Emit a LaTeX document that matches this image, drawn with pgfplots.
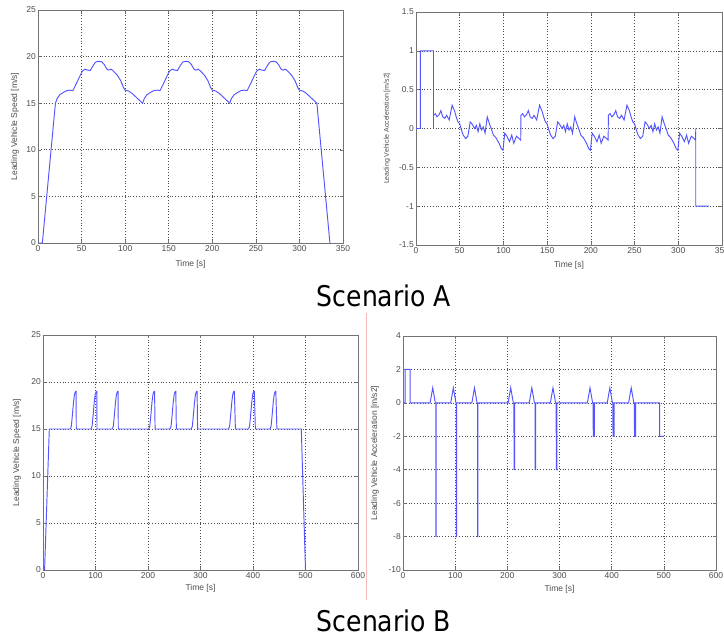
\documentclass[border=0pt]{standalone}
\usepackage{pgfplots}
\pgfplotsset{compat=1.18}
\usepackage{fontspec}
\setmainfont{Liberation Sans}
\newfontfamily\capfont[FakeStretch=0.88]{DejaVu Sans}
\definecolor{linecol}{RGB}{85,85,255}
\definecolor{pinkline}{RGB}{250,185,185}
\pgfplotsset{
  mat/.style={
    scale only axis, anchor=south west,
    grid=major,
    major grid style={black!70, line width=0.6pt, dash pattern=on 0.8pt off 2pt},
    axis line style={black!55, line width=0.6pt},
    tick style={black!55, line width=0.5pt},
    tick align=inside, major tick length=3pt,
    ticklabel style={font=\fontsize{8.5}{9}\selectfont, text=black!70},
    label style={font=\fontsize{8.5}{9}\selectfont, text=black!70},
    xticklabel style={inner sep=1pt, yshift=-1.5pt},
    yticklabel style={inner sep=2pt},
    /pgf/number format/assume math mode=true,
    xlabel={Time [s]},
  },
  xlab/.style={xlabel style={at={(axis description cs:0.5,0)}, anchor=center, yshift=-#1}},
  ylab/.style={ylabel style={at={(axis description cs:0,0.5)}, anchor=center, yshift=#1}},
  ln/.style={linecol, line width=0.95pt, mark=none},
}
\begin{document}
\begin{tikzpicture}
\path[use as bounding box] (0pt,0pt) rectangle (724pt,637pt);

% ---------------- Scenario A: speed ----------------
\begin{axis}[mat, at={(38pt,394pt)}, width=305pt, height=233pt,
  xmin=0, xmax=350, ymin=0, ymax=25,
  xtick={0,50,...,350}, ytick={0,5,...,25},
  ylabel={Leading Vehicle Speed [m/s]}, xlab=21pt, ylab=23pt]
\addplot[ln] coordinates {
(0,0) (5,0) (20,15.0)
(22,15.5) (25,15.9) (29,16.15) (33,16.35) (37,16.4) (40,16.35) (44,17.1) (48,17.9) (51,18.45) (54,18.65) (57,18.55) (60,18.5) (63,19.0) (66,19.4) (69,19.5) (73,19.45) (76,19.15) (79,18.65) (81,18.55) (84,18.65) (87,18.4) (91,18.0) (95,17.4) (98,16.7) (100,16.4) (104,16.3) (108,16.05) (112,15.7) (116,15.35) (120,15.0)
(122,15.5) (125,15.9) (129,16.15) (133,16.35) (137,16.4) (140,16.35) (144,17.1) (148,17.9) (151,18.45) (154,18.65) (157,18.55) (160,18.5) (163,19.0) (166,19.4) (169,19.5) (173,19.45) (176,19.15) (179,18.65) (181,18.55) (184,18.65) (187,18.4) (191,18.0) (195,17.4) (198,16.7) (200,16.4) (204,16.3) (208,16.05) (212,15.7) (216,15.35) (220,15.0)
(222,15.5) (225,15.9) (229,16.15) (233,16.35) (237,16.4) (240,16.35) (244,17.1) (248,17.9) (251,18.45) (254,18.65) (257,18.55) (260,18.5) (263,19.0) (266,19.4) (269,19.5) (273,19.45) (276,19.15) (279,18.65) (281,18.55) (284,18.65) (287,18.4) (291,18.0) (295,17.4) (298,16.7) (300,16.4) (304,16.3) (308,16.05) (312,15.7) (316,15.35) (320,15.0)
(335,0)
};
\end{axis}

% ---------------- Scenario A: acceleration ----------------
\begin{axis}[mat, at={(416pt,392pt)}, width=306pt, height=233pt,
  xmin=0, xmax=350, ymin=-1.5, ymax=1.5,
  xtick={0,50,...,350}, ytick={-1.5,-1,...,1.5},
  ylabel={Leading Vehicle Acceleration [m/s2]}, xlab=20pt, ylab=29pt,
  ylabel style={font=\fontsize{7}{8}\selectfont}]
\addplot[ln] coordinates {
(0,0) (5,0) (5,1) (20,1) (20,0)
(20,0.17) (22,0.19) (24,0.15) (26.5,0.18) (28.5,0.23) (30.5,0.15) (33,0.13) (35,0.17) (38,0.11) (41.3,0.3) (44,0.23) (46,0.15) (48,0.085) (50,0.06) (52,-0.02) (54,-0.085) (56.7,-0.13) (59.3,-0.1) (62,0.085) (64,0.06) (67,0) (69,0.04) (71,-0.04) (73,0.06) (75,-0.02) (77,0.02) (79,-0.06) (81.5,0.15) (84,0.06) (86,0) (88.5,-0.085) (91.5,-0.12) (95,-0.19) (97.6,-0.26) (99.5,-0.28) (101.5,-0.06) (104,-0.1) (107,-0.17) (109.5,-0.085) (111.8,-0.19) (114.9,-0.1) (117,-0.12) (119.8,-0.15)
(120,0.17) (122,0.19) (124,0.15) (126.5,0.18) (128.5,0.23) (130.5,0.15) (133,0.13) (135,0.17) (138,0.11) (141.3,0.3) (144,0.23) (146,0.15) (148,0.085) (150,0.06) (152,-0.02) (154,-0.085) (156.7,-0.13) (159.3,-0.1) (162,0.085) (164,0.06) (167,0) (169,0.04) (171,-0.04) (173,0.06) (175,-0.02) (177,0.02) (179,-0.06) (181.5,0.15) (184,0.06) (186,0) (188.5,-0.085) (191.5,-0.12) (195,-0.19) (197.6,-0.26) (199.5,-0.28) (201.5,-0.06) (204,-0.1) (207,-0.17) (209.5,-0.085) (211.8,-0.19) (214.9,-0.1) (217,-0.12) (219.8,-0.15)
(220,0.17) (222,0.19) (224,0.15) (226.5,0.18) (228.5,0.23) (230.5,0.15) (233,0.13) (235,0.17) (238,0.11) (241.3,0.3) (244,0.23) (246,0.15) (248,0.085) (250,0.06) (252,-0.02) (254,-0.085) (256.7,-0.13) (259.3,-0.1) (262,0.085) (264,0.06) (267,0) (269,0.04) (271,-0.04) (273,0.06) (275,-0.02) (277,0.02) (279,-0.06) (281.5,0.15) (284,0.06) (286,0) (288.5,-0.085) (291.5,-0.12) (295,-0.19) (297.6,-0.26) (299.5,-0.28) (301.5,-0.06) (304,-0.1) (307,-0.17) (309.5,-0.085) (311.8,-0.19) (314.9,-0.1) (317,-0.12) (319.8,-0.15)
(320,0) (320,-1) (335,-1)
};
\end{axis}

% ---------------- Scenario B: speed ----------------
\begin{axis}[mat, at={(43pt,67pt)}, width=315pt, height=235pt,
  xmin=0, xmax=600, ymin=0, ymax=25,
  xtick={0,100,...,600}, ytick={0,5,...,25},
  ylabel={Leading Vehicle Speed [m/s]}, xlab=18pt, ylab=26pt]
\addplot[ln] coordinates {
(0,0) (3,0) (12,15)
(52,15) (54,15.3) (56,16.5) (58,17.8) (60,18.7) (62,19) (63,19) (63.4,15)
(91.5,15) (93.5,15.3) (95.5,16.5) (97.5,17.8) (99.5,18.7) (101.5,19) (102.5,19) (102.9,15)
(132,15) (134,15.3) (136,16.5) (138,17.8) (140,18.7) (142,19) (143,19) (143.4,15)
(201.5,15) (203.5,15.3) (205.5,16.5) (207.5,17.8) (209.5,18.7) (211.5,19) (212.5,19) (213.5,15)
(242,15) (244,15.3) (246,16.5) (248,17.8) (250,18.7) (252,19) (253,19) (254,15)
(282.5,15) (284.5,15.3) (286.5,16.5) (288.5,17.8) (290.5,18.7) (292.5,19) (293.5,19) (294.5,15)
(353.5,15) (355.5,15.3) (357.5,16.5) (359.5,17.8) (361.5,18.7) (363.5,19) (364.5,19) (366.5,15)
(391.5,15) (393.5,15.3) (395.5,16.5) (397.5,17.8) (399.5,18.7) (401.5,19) (402.5,19) (404.5,15)
(432.5,15) (434.5,15.3) (436.5,16.5) (438.5,17.8) (440.5,18.7) (442.5,19) (443.5,19) (445.5,15)
(492,15) (500,0)
};
\end{axis}

% ---------------- Scenario B: acceleration ----------------
\begin{axis}[mat, at={(403pt,67pt)}, width=313pt, height=234pt,
  xmin=0, xmax=600, ymin=-10, ymax=4,
  xtick={0,100,...,600}, ytick={-10,-8,...,4},
  ylabel={Leading Vehicle Acceleration [m/s2]}, xlab=19pt, ylab=28pt]
\addplot[ln] coordinates {
(0,0) (4,0) (4,2) (13.5,2) (13.5,0)
(52,0) (57,0.9) (62,0) (63,0) (63,-8) (63.4,-8) (63.4,0)
(91.5,0) (96.5,0.9) (101.5,0) (102.5,0) (102.5,-8) (102.9,-8) (102.9,0)
(132,0) (137,0.9) (142,0) (143,0) (143,-8) (143.4,-8) (143.4,0)
(201.5,0) (206.5,0.9) (211.5,0) (212.5,0) (212.5,-1.8) (212.7,0) (212.8,-4) (213.8,-4) (213.8,0)
(242,0) (247,0.9) (252,0) (253,0) (253,-1.8) (253.2,0) (253.3,-4) (254.3,-4) (254.3,0)
(282.5,0) (287.5,0.9) (292.5,0) (293.5,0) (293.5,-1.8) (293.7,0) (293.8,-4) (294.8,-4) (294.8,0)
(353.5,0) (358.5,0.9) (363.5,0) (364.5,0) (364.5,-1.6) (364.7,0) (364.8,-2) (366.8,-2) (366.8,0)
(391.5,0) (396.5,0.9) (401.5,0) (402.5,0) (402.5,-1.6) (402.7,0) (402.8,-2) (404.8,-2) (404.8,0)
(432.5,0) (437.5,0.9) (442.5,0) (443.5,0) (443.5,-1.6) (443.7,0) (443.8,-2) (445.8,-2) (445.8,0)
(492,0) (492,-2) (500,-2)
};
\end{axis}

% separator and captions
\draw[pinkline, line width=0.8pt] (366pt,37pt) -- (366pt,324pt);
\node[anchor=base, inner sep=0pt, font=\capfont\fontsize{28.5}{30}\selectfont] at (384pt,330.5pt) {Scenario A};
\node[anchor=base, inner sep=0pt, font=\capfont\fontsize{28.5}{30}\selectfont] at (384pt,5.5pt) {Scenario B};
\end{tikzpicture}
\end{document}
